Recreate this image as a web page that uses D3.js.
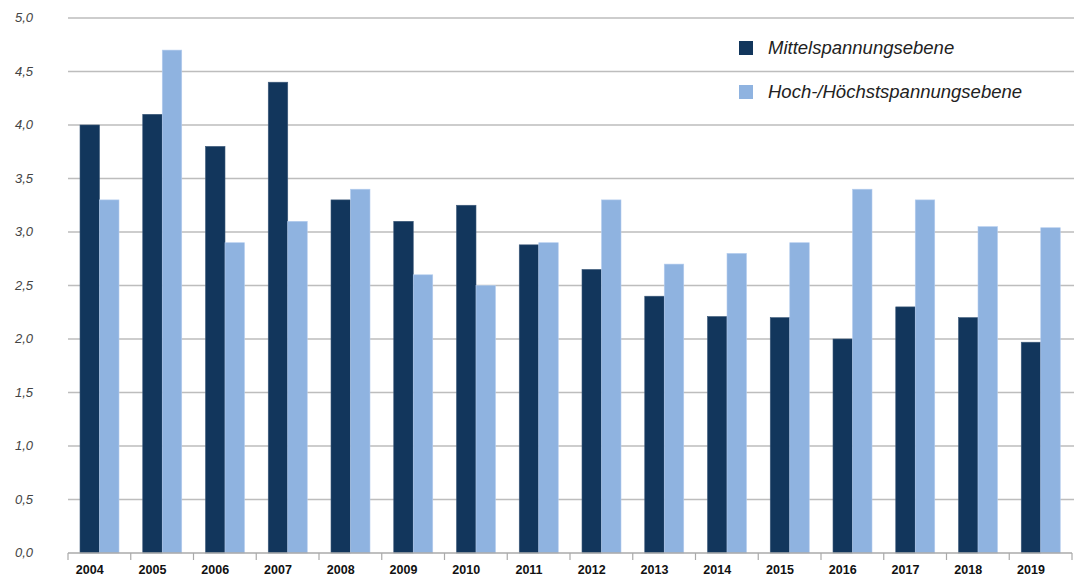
<!DOCTYPE html>
<html>
<head>
<meta charset="utf-8">
<script src="https://cdn.jsdelivr.net/npm/d3@7"></script>
<style>
  body { margin: 0; background: #fff; }
  svg { display: block; font-family: "Liberation Sans", Arial, sans-serif; }
  .y.axis text { font-style: italic; font-size: 13px; fill: #444; }
  .x.axis text { font-weight: bold; font-size: 12.5px; fill: #111; }
  .legend text { font-style: italic; font-size: 18.5px; fill: #222; }
</style>
</head>
<body>
<svg id="bar-chart" width="1077" height="577"></svg>
<script>
var years = ["2004", "2005", "2006", "2007", "2008", "2009", "2010", "2011",
             "2012", "2013", "2014", "2015", "2016", "2017", "2018", "2019"];
var mittel = [4.0, 4.1, 3.8, 4.4, 3.3, 3.1, 3.25, 2.88, 2.65, 2.4, 2.21, 2.2, 2.0, 2.3, 2.2, 1.97];
var hoch = [3.3, 4.7, 2.9, 3.1, 3.4, 2.6, 2.5, 2.9, 3.3, 2.7, 2.8, 2.9, 3.4, 3.3, 3.05, 3.04];
var yTicks = [0, 0.5, 1.0, 1.5, 2.0, 2.5, 3.0, 3.5, 4.0, 4.5, 5.0];
var seriesNames = ["Mittelspannungsebene", "Hoch-/Höchstspannungsebene"];
var colors = ["#12365c", "#8fb3e0"];

var svg = d3.select("#bar-chart"),
    margin = {top: 18, right: 5, bottom: 24, left: 68},
    width = 1072 - margin.left,
    height = +svg.attr("height") - margin.top - margin.bottom;

var x = d3.scaleBand().domain(years).range([0, width]).paddingInner(0).paddingOuter(0);
var y = d3.scaleLinear().domain([0, 5]).range([height, 0]);
var barW = 19.5, barOff = 12;

var g = svg.append("g")
    .attr("transform", "translate(" + margin.left + "," + margin.top + ")");

// gridlines
g.selectAll(".grid")
    .data(yTicks.slice(1))
  .enter().append("line")
    .attr("class", "grid")
    .attr("x1", 0).attr("x2", 1074 - margin.left)
    .attr("y1", function(d) { return y(d); })
    .attr("y2", function(d) { return y(d); })
    .attr("stroke", "#bdbdbd").attr("stroke-width", 1.5);

// y labels
var yax = g.append("g").attr("class", "y axis");
yax.selectAll("text")
    .data(yTicks)
  .enter().append("text")
    .attr("x", 33 - margin.left)
    .attr("y", function(d) { return y(d) + 4; })
    .attr("text-anchor", "end")
    .text(function(d) { return d3.format(".1f")(d).replace(".", ","); });

var rows = years.map(function(yr, i) { return {year: yr, vals: [mittel[i], hoch[i]]}; });

var grp = g.selectAll(".year")
    .data(rows)
  .enter().append("g")
    .attr("transform", function(d) { return "translate(" + (x(d.year) + barOff) + ",0)"; });

grp.selectAll("rect")
    .data(function(d) { return d.vals; })
  .enter().append("rect")
    .attr("x", function(d, i) { return i * barW; })
    .attr("width", barW)
    .attr("y", function(d) { return y(d); })
    .attr("height", function(d) { return height - y(d); })
    .attr("fill", function(d, i) { return colors[i]; })
    .attr("stroke", function(d, i) { return i ? "#b5cdee" : "#3d5a7a"; })
    .attr("stroke-width", 0.6);

// x axis baseline and ticks
var xax = g.append("g").attr("class", "x axis").attr("transform", "translate(0," + height + ")");
xax.append("line").attr("x1", 0).attr("x2", width).attr("stroke", "#aaa").attr("stroke-width", 1.5);
xax.selectAll(".tick")
    .data(years.concat(["end"]))
  .enter().append("line")
    .attr("x1", function(d) { return d === "end" ? width : x(d); })
    .attr("x2", function(d) { return d === "end" ? width : x(d); })
    .attr("y1", 0).attr("y2", 7)
    .attr("stroke", "#aaa").attr("stroke-width", 1.2);
xax.selectAll("text")
    .data(years)
  .enter().append("text")
    .attr("x", function(d) { return x(d) + barOff + barW / 2; })
    .attr("y", 21)
    .attr("text-anchor", "middle")
    .text(function(d) { return d; });

// legend
var legend = svg.append("g").attr("class", "legend");
seriesNames.forEach(function(name, i) {
    var ly = 41 + i * 44;
    legend.append("rect")
        .attr("x", 739).attr("y", ly)
        .attr("width", 14).attr("height", 14)
        .attr("fill", colors[i]);
    legend.append("text")
        .attr("x", 768).attr("y", ly + 13)
        .text(name);
});
</script>
</body>
</html>
